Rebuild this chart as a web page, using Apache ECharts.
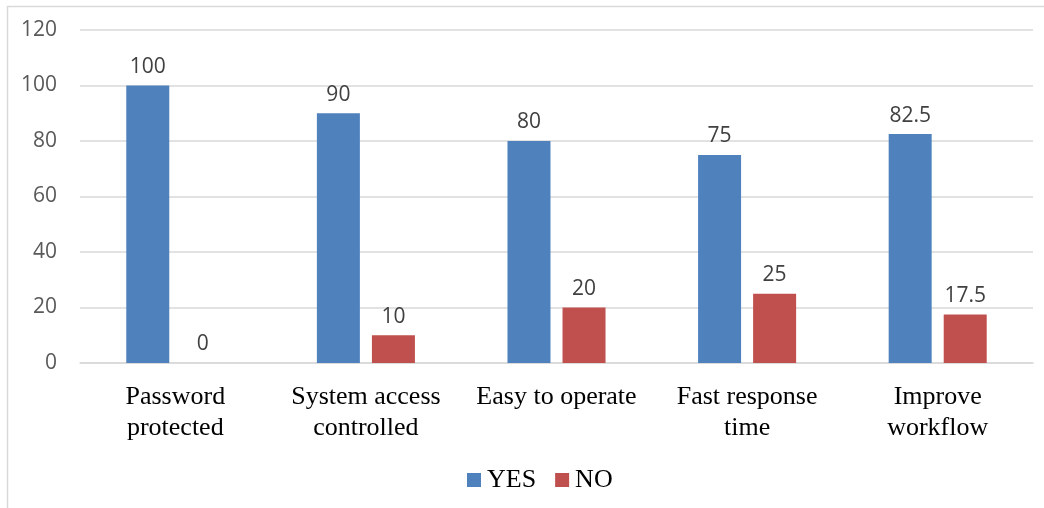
<!DOCTYPE html>
<html><head><meta charset="utf-8">
<script src="https://cdn.jsdelivr.net/npm/echarts@6/dist/echarts.min.js"></script>
<style>html,body{margin:0;padding:0;background:#fff}#c{width:1044px;height:508px}</style>
</head><body><div id="c"></div>
<script>
const categories = ["Password\nprotected", "System access\ncontrolled", "Easy to operate", "Fast response\ntime", "Improve\nworkflow"];
const yesValues = [100, 90, 80, 75, 82.5];
const noValues = [0, 10, 20, 25, 17.5];
const seriesNames = ["YES", "NO"];

const chart = echarts.init(document.getElementById('c'));
const numFont = '"Open Sans", sans-serif';
const serif = '"Liberation Serif", "Times New Roman", serif';
const labelCfg = {show: true, position: 'top', distance: 8, color: '#404040', fontFamily: numFont, fontSize: 21};
chart.setOption({
  animation: false,
  graphic: [{type: 'rect', left: 5, top: 4, shape: {width: 1050, height: 520}, style: {fill: 'none', stroke: '#d9d9d9', lineWidth: 1.5}, silent: true, z: -1}],
  grid: {left: 80, right: 11, top: 30, bottom: 145},
  legend: {top: 462, left: 462, itemWidth: 14, itemHeight: 14, itemGap: 19, icon: 'rect',
    textStyle: {fontFamily: serif, fontSize: 26, color: '#000', padding: [0, 0, 0, 1]}, data: seriesNames},
  xAxis: {type: 'category', data: categories,
    axisLine: {lineStyle: {color: '#d9d9d9', width: 1.5}}, axisTick: {show: false},
    axisLabel: {fontFamily: serif, fontSize: 26, color: '#000', margin: 19, lineHeight: 31, interval: 0}},
  yAxis: {type: 'value', min: 0, max: 120, interval: 20,
    axisLine: {show: false}, axisTick: {show: false},
    splitLine: {lineStyle: {color: '#d9d9d9', width: 1.5}},
    axisLabel: {fontFamily: numFont, fontSize: 21, color: '#595959', margin: 23}},
  series: [
    {name: seriesNames[0], type: 'bar', data: yesValues, barWidth: 43, barGap: '28%', itemStyle: {color: '#4F81BD'}, label: labelCfg},
    {name: seriesNames[1], type: 'bar', data: noValues, barWidth: 43, itemStyle: {color: '#C0504D'}, label: labelCfg}
  ]
});
</script></body></html>
